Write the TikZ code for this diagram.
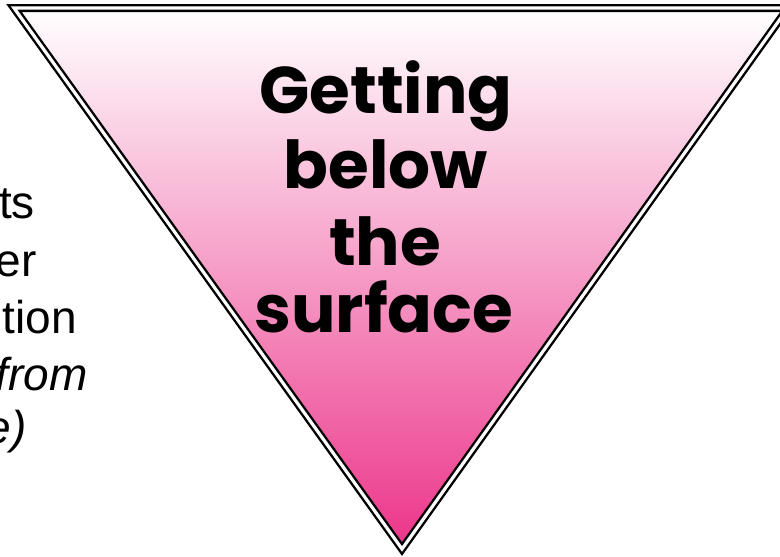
\documentclass[tikz,border=0pt]{standalone}
\usepackage{fontspec}
\setmainfont{Liberation Sans}
\newfontfamily\titlefont{Poppins}
\usepackage{tikz}
\usetikzlibrary{calc}

\definecolor{pinkmid}{RGB}{246,192,212}
\definecolor{pinkbot}{RGB}{236,52,138}

\begin{document}
\begin{tikzpicture}[x=1pt,y=-1pt]
  \def\W{780}
  \def\H{557}

  % Page frame
  \useasboundingbox (0,0) rectangle (\W,\H);
  \clip (0,0) rectangle (\W,\H);

  % Corners of the triangle
  \coordinate (tl) at (14,8);
  \coordinate (tr) at (788,8);
  \coordinate (apex) at (402,549);

  % Draw the triangle
  \draw[line width=2.4pt, double=white, double distance=3.2pt,
        top color=white, middle color=pinkmid, bottom color=pinkbot]
    (tl) -- (tr) -- (apex) -- cycle;

  % Title lines
  \node[anchor=base, inner sep=0pt, font=\titlefont\bfseries\fontsize{66}{73}\selectfont] (getting) at (386,113) {Getting};
  \node[anchor=base, inner sep=0pt, font=\titlefont\bfseries\fontsize{66}{73}\selectfont] (below) at (386,188) {below};
  \node[anchor=base, inner sep=0pt, font=\titlefont\bfseries\fontsize{66}{73}\selectfont] (the) at (385,265) {the};
  \node[anchor=base, inner sep=0pt, font=\titlefont\bfseries\fontsize{66}{73}\selectfont] (surface) at (384,332) {surface};

  % Left text (cut at the page edge)
  \node[anchor=base east, inner sep=0pt, font=\fontsize{46}{57}\selectfont] (ts) at (35,218) {ts};
  \node[anchor=base east, inner sep=0pt, font=\fontsize{46}{57}\selectfont] (er) at (37,276) {er};
  \node[anchor=base east, inner sep=0pt, font=\fontsize{46}{57}\selectfont] (tion) at (77,333) {tion};
  \node[anchor=base east, inner sep=0pt, font=\fontsize{46}{57}\selectfont\itshape] (from) at (88,390) {from};
  \node[anchor=base east, inner sep=0pt, font=\fontsize{46}{57}\selectfont\itshape] (e) at (27,443) {e)};
\end{tikzpicture}
\end{document}
